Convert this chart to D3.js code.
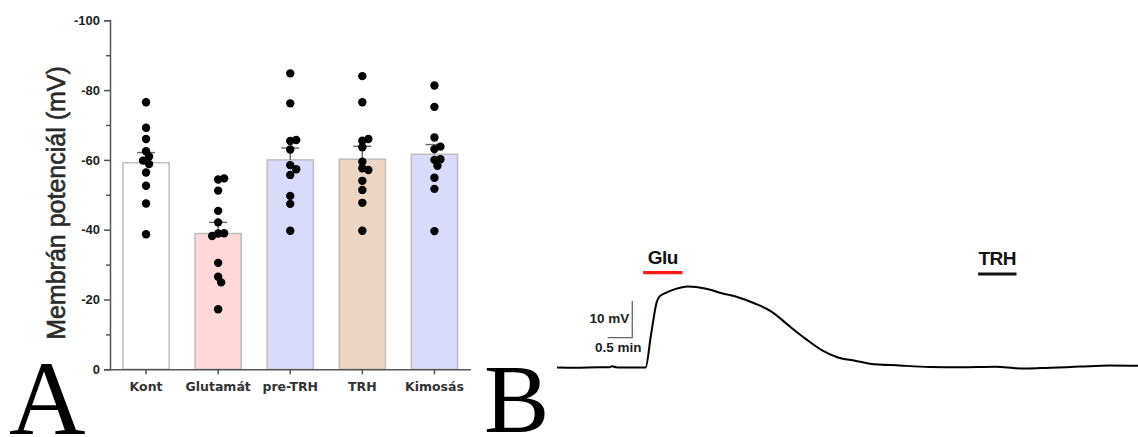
<!DOCTYPE html>
<html>
<head>
<meta charset="utf-8">
<script src="https://cdn.jsdelivr.net/npm/d3@7"></script>
<style>
  body { margin: 0; background: #fff; }
  svg { display: block; }
</style>
</head>
<body>
<div id="chart"></div>
<script>
// categories and bar values (membrane potential, mV)
var groups = ["Kont", "Glutamát", "pre-TRH", "TRH", "Kimosás"];
var means = [-59.2, -38.9, -60.0, -60.2, -61.6];
var sems = [2.9, 3.2, 3.4, 3.7, 2.8];
var fills = ["#ffffff", "#ffd9da", "#d9dbfb", "#ecd5c3", "#d9dbfb"];

// individual cells
var pointsKont = [-76.5, -69.2, -66.0, -62.5, -61.0, -59.8, -58.8, -56.4, -52.6, -47.5, -38.7];
var pointsGlu = [-54.4, -54.7, -51.2, -45.4, -42.1, -38.9, -39.0, -38.2, -30.5, -26.5, -24.9, -17.2];
var pointsPre = [-84.8, -76.2, -65.4, -65.7, -63.0, -58.5, -57.3, -55.7, -49.7, -47.4, -39.7];
var pointsTrh = [-84.0, -76.5, -65.5, -66.0, -63.6, -59.5, -57.6, -57.1, -54.0, -51.4, -47.7, -39.7];
var pointsKim = [-81.3, -75.2, -66.4, -63.1, -63.8, -60.0, -60.2, -58.3, -54.9, -51.7, -39.6];
var allPoints = [pointsKont, pointsGlu, pointsPre, pointsTrh, pointsKim];

var yTicks = [0, -20, -40, -60, -80, -100];
var yMinor = [-10, -30, -50, -70, -90];

// trace: time (min) vs depolarisation from baseline (mV)
var traceT = [0, 0.37, 0.87, 1.05, 1.12, 1.2, 1.28, 1.55, 1.80, 1.91, 2.03, 2.09, 2.20, 2.40, 2.66, 3.01,
  3.35, 3.68, 4.02, 4.36, 4.70, 5.04, 5.38, 5.71, 6.06, 6.36, 6.97, 7.58, 8.19, 8.92, 9.41, 9.82, 10.63, 11.24, 11.81];
var traceV = [0.05, 0, 0.1, 0.1, 0.4, 0.1, 0.05, 0.05, 0.05, 8.9, 18.0, 19.5, 20.3, 21.4, 22.1, 21.6,
  20.3, 19.2, 17.5, 15.3, 11.6, 8.0, 4.8, 2.8, 1.9, 1.1, 0.6, 0.2, 0.1, 0.25, -0.2, -0.1, 0.3, 0.6, 0.5];
var gluPeriod = [1.75, 2.55];
var trhPeriod = [8.56, 9.34];

var W = 1138, H = 437;
var svg = d3.select("#chart").append("svg")
  .attr("width", W)
  .attr("height", H);

// ---------- panel A ----------
var x = d3.scaleBand()
  .domain(groups)
  .range([110, 470.5])
  .paddingInner(0.36)
  .paddingOuter(0.18);

var y = d3.scaleLinear()
  .domain([0, -100])
  .range([369.3, 20.3]);

var axisColor = "#555";

// bars
svg.append("g").selectAll("rect")
  .data(groups)
  .enter()
  .append("rect")
  .attr("x", (d) => x(d))
  .attr("y", (d, i) => y(means[i]))
  .attr("width", x.bandwidth())
  .attr("height", (d, i) => y(0) - y(means[i]))
  .attr("fill", (d, i) => fills[i])
  .attr("stroke", "#bdbdbd")
  .attr("stroke-width", 1.5);

// error bars (upper only)
var eb = svg.append("g").attr("stroke", "#666").attr("stroke-width", 1.4);
groups.forEach(function(g, i) {
  var cx = x(g) + x.bandwidth() / 2;
  eb.append("line")
    .attr("x1", cx).attr("x2", cx)
    .attr("y1", y(means[i])).attr("y2", y(means[i] - sems[i]));
  eb.append("line")
    .attr("x1", cx - 9).attr("x2", cx + 9)
    .attr("y1", y(means[i] - sems[i])).attr("y2", y(means[i] - sems[i]));
});

// dots, dodged so they don't pile on top of each other
var r = 4.2;
groups.forEach(function(g, i) {
  var cx = x(g) + x.bandwidth() / 2;
  var placed = [];
  allPoints[i].forEach(function(v) {
    var py = y(v);
    var offs = [0, 3, -3, 6, -6, 9, -9];
    var px = cx;
    for (var k = 0; k < offs.length; k++) {
      var ok = placed.every((p) => Math.hypot(p[0] - (cx + offs[k]), p[1] - py) > 6);
      if (ok) { px = cx + offs[k]; break; }
    }
    placed.push([px, py]);
  });
  svg.append("g").selectAll("circle")
    .data(placed)
    .enter()
    .append("circle")
    .attr("cx", (d) => d[0])
    .attr("cy", (d) => d[1])
    .attr("r", r)
    .attr("fill", "#000");
});

// y axis
var yAxis = svg.append("g")
  .attr("transform", "translate(110,0)")
  .call(d3.axisLeft(y).tickValues(yTicks).tickSize(6).tickPadding(4)
    .tickSizeOuter(6).tickFormat((d) => String(d)));
yAxis.selectAll("text")
  .attr("fill", "#222")
  .style("font-family", "Liberation Sans, Arial, sans-serif")
  .style("font-weight", "bold")
  .style("font-size", "13px");
svg.append("g")
  .attr("transform", "translate(110,0)")
  .call(d3.axisLeft(y).tickValues(yMinor).tickSize(4).tickFormat(""))
  .select(".domain").remove();

// x axis
var xAxis = svg.append("g")
  .attr("transform", "translate(0,369.3)")
  .call(d3.axisBottom(x).tickSize(5).tickSizeOuter(0).tickPadding(8));
xAxis.selectAll("text")
  .attr("fill", "#333")
  .style("font-family", "DejaVu Sans, Verdana, sans-serif")
  .style("font-weight", "bold")
  .style("font-size", "12.5px");

svg.selectAll(".domain, .tick line")
  .attr("stroke", axisColor)
  .attr("stroke-width", 1.5);

// y title (a thin stroke makes it semi-bold like the original)
svg.append("text")
  .attr("transform", "translate(65,203) rotate(-90)")
  .attr("text-anchor", "middle")
  .attr("fill", "#2b2b2b")
  .attr("stroke", "#2b2b2b")
  .attr("stroke-width", 0.6)
  .style("font-family", "Liberation Sans, Arial, sans-serif")
  .style("font-size", "25px")
  .text("Membrán potenciál (mV)");

// ---------- panel B ----------
var xt = d3.scaleLinear().domain([0, 11.81]).range([557, 1138]);
var yt = d3.scaleLinear().domain([0, 22.1]).range([367.7, 286.6]);

svg.append("path")
  .datum(traceT.map((t, i) => [t, traceV[i]]))
  .attr("fill", "none")
  .attr("stroke", "#000")
  .attr("stroke-width", 2)
  .attr("d", d3.line().x((d) => xt(d[0])).y((d) => yt(d[1])).curve(d3.curveMonotoneX));

// scale bar: 10 mV, 0.5 min
var sbT = 1.53, sbV = 8.17;
svg.append("path")
  .attr("fill", "none")
  .attr("stroke", "#666")
  .attr("stroke-width", 1.3)
  .attr("d", "M" + xt(sbT) + "," + yt(sbV + 10) + "V" + yt(sbV) + "H" + xt(sbT - 0.5));
svg.append("text")
  .attr("x", xt(sbT) - 3).attr("y", 323)
  .attr("text-anchor", "end")
  .attr("fill", "#222")
  .style("font-family", "Liberation Sans, Arial, sans-serif")
  .style("font-weight", "bold")
  .style("font-size", "13.5px")
  .text("10 mV");
svg.append("text")
  .attr("x", 595).attr("y", 352)
  .attr("fill", "#222")
  .style("font-family", "Liberation Sans, Arial, sans-serif")
  .style("font-weight", "bold")
  .style("font-size", "13.5px")
  .text("0.5 min");

// application bars
[[gluPeriod, "#ff1a1a", "Glu", 272.7], [trhPeriod, "#111", "TRH", 274]].forEach(function(a) {
  svg.append("line")
    .attr("x1", xt(a[0][0])).attr("x2", xt(a[0][1]))
    .attr("y1", a[3]).attr("y2", a[3])
    .attr("stroke", a[1])
    .attr("stroke-width", 3.2);
  svg.append("text")
    .attr("x", (xt(a[0][0]) + xt(a[0][1])) / 2)
    .attr("y", a[3] - 9)
    .attr("text-anchor", "middle")
    .attr("fill", "#111")
    .style("font-family", "Liberation Sans, Arial, sans-serif")
    .style("font-weight", "bold")
    .style("font-size", "19px")
    .style("letter-spacing", "-0.5px")
    .text(a[2]);
});

// panel letters
svg.append("text")
  .attr("x", 9).attr("y", 434)
  .style("font-family", "Liberation Serif, Times New Roman, serif")
  .style("font-size", "106px")
  .text("A");
svg.append("text")
  .attr("x", 484).attr("y", 432)
  .style("font-family", "Liberation Serif, Times New Roman, serif")
  .style("font-size", "98px")
  .text("B");
</script>
</body>
</html>
